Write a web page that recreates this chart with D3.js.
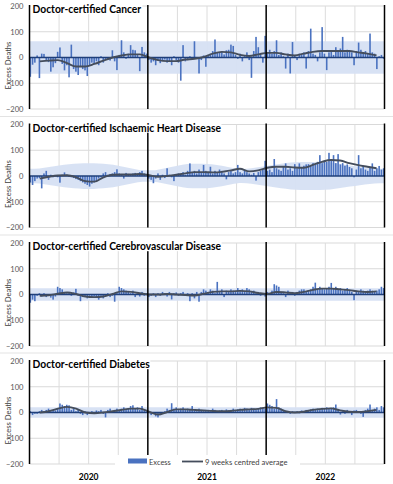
<!DOCTYPE html>
<html><head><meta charset="utf-8">
<script src="https://cdn.jsdelivr.net/npm/d3@7"></script>
<style>
html,body{margin:0;padding:0;background:#fff;}
svg{display:block;font-family:Lato,"Open Sans",sans-serif;}
</style></head>
<body><svg id="c" width="393" height="484"></svg>
<script>
// ---------------- DATA ----------------
const panelTitles = ["Doctor-certified Cancer","Doctor-certified Ischaemic Heart Disease","Doctor-certified Cerebrovascular Disease","Doctor-certified Diabetes"];
const yTicks = [-200,-100,0,100,200];
const yearLabels = ["2020","2021","2022"];
const legendLabels = ["Excess","9 weeks centred average"];
const yAxisLabel = "Excess Deaths";

// weekly excess deaths, 156 weeks (2020-2022)
const cancerExcess = [
 -75,-28,-20,8,-80,15,14,-12,-18,-55,-38,-22,22,
 39,-25,-50,-30,-77,50,-45,-55,-68,-35,-45,-50,-72,
 -30,-20,-25,-15,-30,5,-20,-10,-8,-12,28,-15,-49,
 10,67,20,-5,15,48,30,28,10,-53,41,20,15,
 -10,-20,-15,-30,-10,-22,-12,-8,-20,-15,-30,5,-12,
 -20,-90,48,-15,-10,5,-8,63,-5,-62,-10,8,-36,
 10,15,25,70,20,18,22,12,28,30,50,45,10,
 -5,15,-15,5,20,-10,-79,25,80,40,10,-20,84,
 20,30,15,25,67,10,20,5,-43,15,-62,60,10,
 -10,15,10,20,-43,25,112,15,10,-15,20,118,15,
 -49,20,25,10,40,25,35,80,20,30,25,20,-30,
 25,58,30,20,25,15,93,20,15,-45,5,10,-5];
const ihdExcess = [
 -25,-35,-20,-10,-8,-48,10,20,-15,5,-5,3,-5,
 -26,5,14,5,-3,-5,-8,-12,-15,-20,-25,-30,-35,
 -41,-30,-25,-20,-10,-5,10,15,5,8,10,15,26,
 10,5,-10,12,8,5,10,12,8,15,20,10,5,
 -10,-15,-28,-10,10,-15,5,-8,30,5,-5,-20,5,
 10,8,15,5,20,49,15,20,10,25,15,43,20,
 15,36,10,20,15,25,20,10,-13,15,20,10,15,
 43,15,10,20,15,10,5,12,-18,15,20,25,59,
 20,25,15,66,30,25,20,35,49,25,30,20,46,
 30,49,35,40,45,46,40,50,45,55,81,50,60,
 55,90,60,81,50,85,45,50,40,45,35,30,-5,
 25,81,30,40,25,20,35,49,20,30,39,25,30];
const cerebroExcess = [
 -32,-20,-26,-5,5,-8,5,-10,-5,-12,-20,-8,30,
 25,20,10,5,10,-5,8,22,-5,-26,-10,-8,-15,
 -5,-12,-8,-10,-20,-5,-15,-8,5,-10,-5,-28,10,
 30,25,20,15,10,5,15,-10,5,-8,10,-5,5,
 -10,-5,5,-10,5,-5,10,5,-8,10,-19,5,8,
 -5,5,10,-5,5,-26,5,-15,10,-28,10,20,15,
 10,20,15,5,49,10,20,-10,15,10,20,15,10,
 25,15,20,10,25,20,10,15,5,10,-5,5,-8,
 10,5,15,40,35,30,10,5,-10,15,5,10,-5,
 10,15,20,20,10,15,20,30,46,20,30,25,20,
 25,30,45,25,30,20,25,15,20,25,15,10,-22,
 15,10,20,15,10,15,20,15,10,15,20,30,25];
const diabetesExcess = [
 5,-10,-5,-5,5,10,5,10,15,5,10,8,15,
 35,30,25,30,28,10,15,5,10,-5,-10,5,-10,
 -5,5,-5,8,5,10,-5,-19,10,15,5,10,15,
 10,15,20,10,15,25,28,15,20,10,25,10,5,
 0,-10,-5,-15,-19,-10,-5,5,15,10,36,15,20,
 10,15,20,10,15,10,25,10,5,15,10,5,10,
 10,5,15,10,5,8,10,5,12,8,10,15,10,
 12,15,10,18,15,12,18,15,10,15,20,18,15,
 35,30,25,15,52,20,15,10,5,0,-5,5,3,
 5,-3,8,5,10,8,12,15,10,15,12,18,15,
 20,15,18,20,31,10,-8,5,-5,10,5,-10,8,
 10,5,-5,-17,10,15,31,10,15,20,10,25,20];

// 9-week centred average, read every 4 weeks
const avgWeeks = [4,8,12,16,20,24,28,32,36,40,44,48,52,56,60,64,68,72,76,80,84,88,92,96,100,104,108,112,116,120,124,128,132,136,140,144,148,152];
const cancerAvg = [-15,-12,-10,-22,-35,-35,-25,-12,0,8,12,12,0,-10,-14,-14,-8,-5,2,15,22,20,10,6,12,18,18,12,8,15,22,25,25,25,25,20,15,8];
const ihdAvg = [-10,-3,2,3,-5,-20,-22,-5,5,6,6,8,3,-3,0,5,10,15,15,14,16,22,28,18,22,32,36,36,33,32,43,55,62,60,50,42,36,30];
const cerebroAvg = [-5,-3,3,8,2,-8,-10,-8,2,12,10,5,0,0,2,0,-2,-4,3,10,12,12,14,12,6,2,10,8,5,10,18,23,23,20,17,12,10,12];
const diabetesAvg = [0,5,15,22,15,0,-3,0,5,10,15,15,3,-8,2,12,12,10,8,6,5,6,10,12,14,20,18,5,0,3,10,14,16,8,3,2,5,10];

// normal range (+/-), monthly, Jan 2020 - Dec 2022
const cancerBand = [63,63,63,63,63,63,63,63,63,63,63,63,63,63,63,63,63,63,63,63,63,63,63,63,63,63,63,63,63,63,63,63,63,63,63,63];
const ihdBand = [28,32,38,44,48,50,50,48,44,36,28,22,22,28,36,44,48,48,46,40,32,27,30,36,42,48,52,54,54,54,52,47,41,36,31,28];
const cerebroBand = [24,24,24,24,24,24,24,24,24,24,24,24,24,24,24,24,24,24,24,24,24,24,24,24,24,24,24,24,24,24,24,24,24,24,24,24];
const diabetesBand = [20,20,20,20,20,20,20,20,20,20,20,20,20,20,20,20,20,20,20,20,20,20,20,20,20,20,20,20,20,20,20,20,20,20,20,20];

const panels = [
 {title:panelTitles[0], excess:cancerExcess, avg:cancerAvg, band:cancerBand},
 {title:panelTitles[1], excess:ihdExcess, avg:ihdAvg, band:ihdBand},
 {title:panelTitles[2], excess:cerebroExcess, avg:cerebroAvg, band:cerebroBand},
 {title:panelTitles[3], excess:diabetesExcess, avg:diabetesAvg, band:diabetesBand}
];

// ---------------- LAYOUT ----------------
const svg = d3.select("#c");
const X0 = 29.5, X1 = 384.5;
const nWeeks = cancerExcess.length;
const x = d3.scaleLinear().domain([0, nWeeks]).range([X0, X1]);
const xb = d3.scaleBand().domain(d3.range(nWeeks)).range([X0, X1]).paddingInner(0.3);
const panelTops = [6, 124.5, 243, 361];
const panelH = 103;

// title: Calibri-like proportions (tall but narrow) -> compress Lato horizontally
const TITLE_SIZE = 11.4;
const TITLE_TARGET_TOTAL = 603;
const probe = svg.append("g");
const natW = panelTitles.map(tt => probe.append("text").attr("font-size",TITLE_SIZE).attr("font-weight","bold")
  .text(tt).node().getComputedTextLength());
probe.remove();
const squeeze = Math.min(1, TITLE_TARGET_TOTAL / d3.sum(natW));

// panel separators
[116.5, 235, 353].forEach(yy => svg.append("line").attr("x1",0).attr("x2",393).attr("y1",yy).attr("y2",yy)
  .attr("stroke","#e3e3e3").attr("stroke-width",1));

panels.forEach((p, k) => {
  const top = panelTops[k];
  const y = d3.scaleLinear().domain([-200, 200]).range([top + panelH, top]);
  const g = svg.append("g");

  // gridlines
  [200,100,-100,-200].forEach(v => g.append("line").attr("x1",X0).attr("x2",X1)
    .attr("y1",y(v)).attr("y2",y(v)).attr("stroke","#d9d9d9").attr("stroke-width",1.2));
  for (let q = 1; q < 12; q++) {
    if (q % 4 === 0) continue;
    g.append("line").attr("x1",x(q*13)).attr("x2",x(q*13)).attr("y1",y(200)).attr("y2",y(-200))
      .attr("stroke","#dcdcdc").attr("stroke-width",1);
  }

  // band (monthly)
  const bandPts = p.band.map((v,m) => ({w:(m+0.5)*nWeeks/36, v}));
  bandPts.unshift({w:0, v:p.band[0]});
  bandPts.push({w:nWeeks, v:p.band[p.band.length-1]});
  g.append("path").datum(bandPts)
    .attr("d", d3.area().x(d=>x(d.w)).y0(d=>y(-d.v)).y1(d=>y(d.v)).curve(d3.curveMonotoneX))
    .attr("fill","#d6e0f3").attr("opacity",0.95);

  // bars
  g.selectAll("rect.bar").data(p.excess).join("rect").attr("class","bar")
    .attr("x",(d,i)=>xb(i)).attr("width",xb.bandwidth())
    .attr("y",d=>y(Math.max(0,d))).attr("height",d=>Math.abs(y(d)-y(0)))
    .attr("fill","#4a72c0");

  // zero line
  g.append("line").attr("x1",X0).attr("x2",X1).attr("y1",y(0)).attr("y2",y(0))
    .attr("stroke","#1f3f7a").attr("stroke-width",1.3);

  // average line
  const avgPts = p.avg.map((v,i)=>({w:avgWeeks[i], v}));
  g.append("path").datum(avgPts)
    .attr("d", d3.line().x(d=>x(d.w+0.5)).y(d=>y(d.v)).curve(d3.curveMonotoneX))
    .attr("fill","none").attr("stroke","#444d5c").attr("stroke-width",1.9);

  // year lines + left axis
  [0,52,104,156].forEach(w => g.append("line").attr("x1",x(w)).attr("x2",x(w))
    .attr("y1",y(200)-1).attr("y2",y(-200)).attr("stroke","#000").attr("stroke-width",1.5));

  // y axis
  const ax = g.append("g").attr("transform",`translate(${X0-3},0)`)
    .call(d3.axisLeft(y).tickValues(yTicks).tickSize(0).tickFormat(d3.format("d")));
  ax.select(".domain").remove();
  ax.selectAll("text").attr("font-size",7.6).attr("fill","#595959").attr("font-family","Lato,sans-serif");

  // axis title
  g.append("text").attr("transform",`translate(10.5,${y(0)+8}) rotate(-90)`)
    .attr("text-anchor","middle").attr("font-size",7.6).attr("fill","#404040").text(yAxisLabel);

  // title with white background
  const bgRect = g.append("rect").attr("fill","#fff");
  const t = g.append("text").attr("x",32.5).attr("y",top+7.2).attr("font-size",TITLE_SIZE)
    .attr("font-weight","bold").attr("fill","#000")
    .attr("textLength", natW[k]*squeeze).attr("lengthAdjust","spacingAndGlyphs").text(p.title);
  const bb = t.node().getBBox();
  bgRect.attr("x",bb.x-1.5).attr("y",bb.y+1).attr("width",bb.width+2).attr("height",bb.height-2);
});

// legend
const lg = svg.append("g");
lg.append("rect").attr("x",115).attr("y",455).attr("width",185).attr("height",14).attr("fill","#fff");
lg.append("rect").attr("x",128).attr("y",458.5).attr("width",19).attr("height",5).attr("fill","#4a72c0");
lg.append("text").attr("x",149).attr("y",464.5).attr("font-size",7.5).attr("fill","#404040").text(legendLabels[0]);
lg.append("line").attr("x1",182).attr("x2",203).attr("y1",461.5).attr("y2",461.5).attr("stroke","#444d5c").attr("stroke-width",1.8);
lg.append("text").attr("x",205).attr("y",464.5).attr("font-size",7.6).attr("fill","#404040").text(legendLabels[1]);

// year labels
yearLabels.forEach((yl,i) => svg.append("text").attr("x",x(i*52+26)).attr("y",480)
  .attr("text-anchor","middle").attr("font-size",8.5).attr("font-weight","bold").attr("fill","#000").text(yl));
</script></body></html>
